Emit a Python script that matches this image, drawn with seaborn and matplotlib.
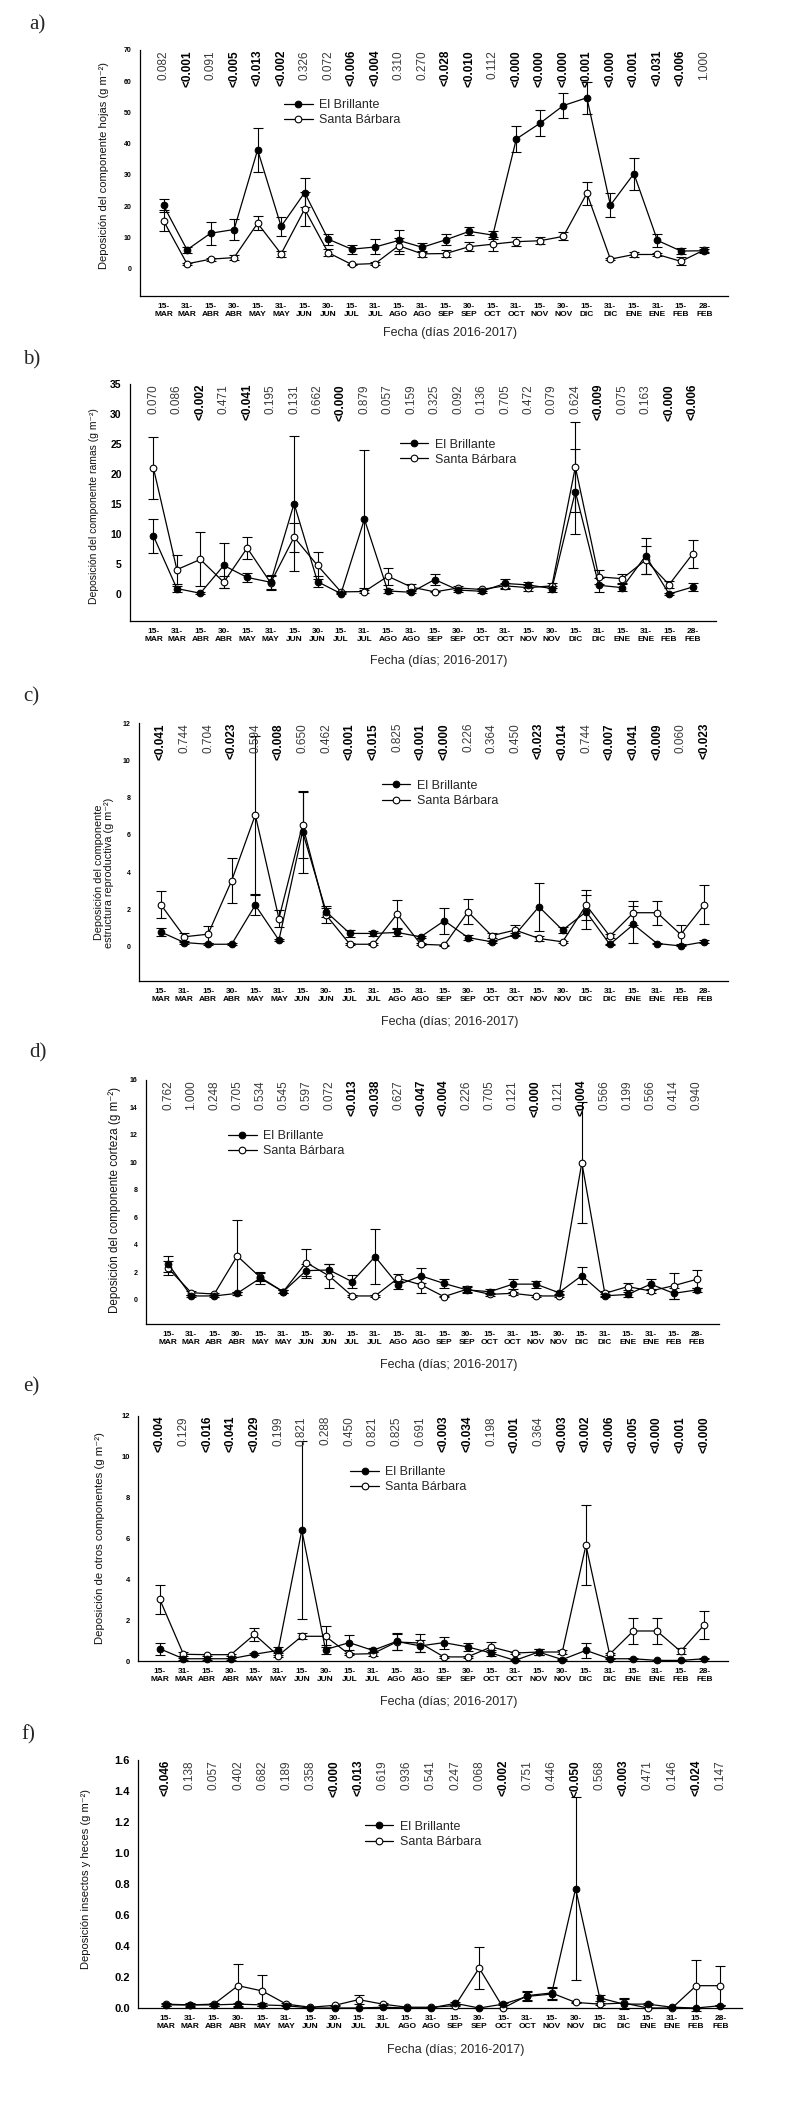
import pandas as pd
import matplotlib
matplotlib.use('Agg')
import matplotlib.pyplot as plt
import seaborn as sns

# Fechas de muestreo (eje x)
days = ['15-', '31-', '15-', '30-', '15-', '31-', '15-', '30-', '15-', '31-', '15-', '31-',
        '15-', '30-', '15-', '31-', '15-', '30-', '15-', '31-', '15-', '31-', '15-', '28-']
months = ['MAR', 'MAR', 'ABR', 'ABR', 'MAY', 'MAY', 'JUN', 'JUN', 'JUL', 'JUL', 'AGO', 'AGO',
          'SEP', 'SEP', 'OCT', 'OCT', 'NOV', 'NOV', 'DIC', 'DIC', 'ENE', 'ENE', 'FEB', 'FEB']

# a) hojas
a_eb = [20.2, 6.0, 11.3, 12.5, 38.0, 13.5, 24.3, 9.4, 6.2, 6.9, 9.0, 6.8, 9.2, 11.9, 10.7, 41.5,
        46.5, 52.2, 54.7, 20.3, 30.4, 9.0, 5.6, 5.7]
a_eb_err = [2.0, 1.0, 3.7, 3.5, 7.0, 3.0, 4.7, 1.8, 1.4, 2.4, 3.5, 1.5, 1.8, 1.3, 1.3, 4.1,
            4.2, 4.0, 5.1, 3.9, 5.1, 2.0, 1.0, 0.6]
a_sb = [15.3, 1.5, 3.0, 3.5, 14.5, 4.7, 19.0, 5.1, 1.3, 1.6, 7.3, 4.7, 4.8, 7.0, 7.8, 8.6,
        8.9, 10.3, 24.1, 3.0, 4.5, 4.5, 2.3, 6.0]
a_sb_err = [3.3, 0.3, 0.5, 0.8, 2.3, 1.0, 5.5, 1.2, 0.3, 0.4, 2.5, 1.0, 1.2, 1.5, 2.2, 1.5,
            1.2, 1.3, 3.7, 0.3, 0.7, 0.6, 1.3, 0.8]
a_p = ['0.082', '<0.001', '0.091', '<0.005', '<0.013', '<0.002', '0.326', '0.072', '<0.006',
       '<0.004', '0.310', '0.270', '<0.028', '<0.010', '0.112', '<0.000', '<0.000', '<0.000',
       '<0.001', '<0.000', '<0.001', '<0.031', '<0.006', '1.000']

# b) ramas
b_eb = [9.7, 0.95, 0.17, 4.8, 2.8, 2.0, 15.1, 2.1, 0.1, 12.5, 0.55, 0.33, 2.45, 0.7, 0.5, 1.8,
        1.55, 0.95, 17.1, 1.5, 1.1, 6.4, 0.05, 1.2]
b_eb_err = [2.8, 0.5, 0.2, 3.8, 0.7, 1.2, 11.3, 0.9, 0.1, 11.5, 0.3, 0.2, 0.9, 0.3, 0.3, 0.8,
            0.5, 0.5, 7.1, 1.2, 0.6, 3.0, 0.2, 0.6]
b_sb = [21.0, 4.1, 5.8, 2.0, 7.7, 1.9, 9.5, 4.8, 0.4, 0.45, 3.0, 1.2, 0.4, 1.05, 0.8, 1.4,
        1.1, 1.4, 21.2, 2.9, 2.6, 5.7, 1.6, 6.7]
b_sb_err = [5.2, 2.4, 4.5, 1.0, 1.9, 1.2, 2.4, 2.2, 0.1, 0.2, 1.4, 0.5, 0.1, 0.3, 0.3, 0.5,
            0.5, 0.4, 7.5, 1.2, 0.8, 2.3, 0.6, 2.4]
b_p = ['0.070', '0.086', '<0.002', '0.471', '<0.041', '0.195', '0.131', '0.662', '<0.000',
       '0.879', '0.057', '0.159', '0.325', '0.092', '0.136', '0.705', '0.472', '0.079',
       '0.624', '<0.009', '0.075', '0.163', '<0.000', '<0.006']

# c) estructura reproductiva
c_eb = [0.8, 0.23, 0.14, 0.14, 2.24, 0.36, 6.18, 1.88, 0.72, 0.72, 0.77, 0.54, 1.4, 0.5, 0.27,
        0.66, 2.15, 0.9, 1.88, 0.13, 1.2, 0.18, 0.05, 0.27]
c_eb_err = [0.2, 0.05, 0.05, 0.05, 0.55, 0.05, 2.2, 0.3, 0.2, 0.15, 0.2, 0.05, 0.7, 0.15, 0.05,
            0.1, 1.3, 0.15, 0.9, 0.05, 1.0, 0.05, 0.03, 0.08]
c_sb = [2.27, 0.54, 0.68, 3.55, 7.07, 1.52, 6.54, 1.7, 0.14, 0.14, 1.76, 0.14, 0.09, 1.88, 0.6,
        0.9, 0.45, 0.27, 2.24, 0.57, 1.83, 1.83, 0.66, 2.27]
c_sb_err = [0.72, 0.2, 0.45, 1.2, 4.25, 0.45, 1.75, 0.4, 0.05, 0.05, 0.77, 0.05, 0.03, 0.66,
            0.15, 0.25, 0.15, 0.05, 0.8, 0.1, 0.65, 0.65, 0.5, 1.05]
c_p = ['<0.041', '0.744', '0.704', '<0.023', '0.594', '<0.008', '0.650', '0.462', '<0.001',
       '<0.015', '0.825', '<0.001', '<0.000', '0.226', '0.364', '0.450', '<0.023', '<0.014',
       '0.744', '<0.007', '<0.041', '<0.009', '0.060', '<0.023']

# d) corteza
d_eb = [2.6, 0.29, 0.29, 0.48, 1.58, 0.6, 2.13, 2.18, 1.33, 3.15, 1.1, 1.75, 1.2, 0.73, 0.6,
        1.15, 1.15, 0.53, 1.77, 0.3, 0.4, 1.15, 0.48, 0.73]
d_eb_err = [0.6, 0.1, 0.1, 0.1, 0.45, 0.1, 0.5, 0.45, 0.45, 2.0, 0.3, 0.55, 0.35, 0.2, 0.2,
            0.35, 0.25, 0.1, 0.6, 0.1, 0.15, 0.4, 0.4, 0.15]
d_sb = [2.3, 0.53, 0.43, 3.2, 1.65, 0.6, 2.72, 1.75, 0.29, 0.29, 1.58, 1.1, 0.24, 0.78, 0.41,
        0.48, 0.29, 0.29, 9.99, 0.48, 0.97, 0.65, 1.04, 1.5]
d_sb_err = [0.5, 0.15, 0.1, 2.65, 0.3, 0.1, 1.0, 0.9, 0.05, 0.05, 0.3, 0.6, 0.05, 0.2, 0.1,
            0.1, 0.05, 0.05, 4.4, 0.2, 0.25, 0.15, 0.95, 0.65]
d_p = ['0.762', '1.000', '0.248', '0.705', '0.534', '0.545', '0.597', '0.072', '<0.013',
       '<0.038', '0.627', '<0.047', '<0.004', '0.226', '0.705', '0.121', '<0.000', '0.121',
       '<0.004', '0.566', '0.199', '0.566', '0.414', '0.940']

# e) otros componentes
e_eb = [0.6, 0.11, 0.11, 0.11, 0.33, 0.52, 6.41, 0.56, 0.9, 0.52, 0.96, 0.74, 0.9, 0.69, 0.39,
        0.03, 0.44, 0.07, 0.52, 0.11, 0.11, 0.03, 0.03, 0.11]
e_eb_err = [0.3, 0.05, 0.05, 0.05, 0.05, 0.15, 4.35, 0.2, 0.35, 0.1, 0.4, 0.3, 0.3, 0.2, 0.15,
            0.02, 0.15, 0.03, 0.35, 0.03, 0.03, 0.02, 0.02, 0.03]
e_sb = [3.02, 0.33, 0.31, 0.31, 1.3, 0.26, 1.21, 1.21, 0.33, 0.36, 0.93, 0.88, 0.2, 0.2, 0.69,
        0.39, 0.44, 0.44, 5.67, 0.33, 1.47, 1.47, 0.47, 1.78]
e_sb_err = [0.7, 0.1, 0.05, 0.05, 0.3, 0.05, 0.15, 0.5, 0.05, 0.1, 0.4, 0.45, 0.05, 0.05, 0.25,
            0.05, 0.15, 0.1, 1.95, 0.05, 0.62, 0.62, 0.15, 0.68]
e_p = ['<0.004', '0.129', '<0.016', '<0.041', '<0.029', '0.199', '0.821', '0.288', '0.450',
       '0.821', '0.825', '0.691', '<0.003', '<0.034', '0.198', '<0.001', '0.364', '<0.003',
       '<0.002', '<0.006', '<0.005', '<0.000', '<0.001', '<0.000']

# f) insectos y heces
f_eb = [0.02, 0.02, 0.02, 0.025, 0.02, 0.015, 0.0, 0.0, 0.0, 0.005, 0.0, 0.0, 0.03, 0.0, 0.025,
        0.075, 0.09, 0.77, 0.065, 0.025, 0.025, 0.005, 0.0, 0.015]
f_eb_err = [0.005, 0.005, 0.005, 0.01, 0.01, 0.005, 0.0, 0.0, 0.0, 0.0, 0.0, 0.0, 0.01, 0.0,
            0.005, 0.03, 0.04, 0.59, 0.02, 0.03, 0.005, 0.0, 0.0, 0.005]
f_sb = [0.025, 0.02, 0.025, 0.144, 0.11, 0.025, 0.005, 0.017, 0.054, 0.025, 0.005, 0.005,
        0.015, 0.258, 0.0, 0.08, 0.097, 0.036, 0.025, 0.032, 0.0, 0.0, 0.144, 0.144]
f_sb_err = [0.01, 0.015, 0.01, 0.14, 0.1, 0.005, 0.0, 0.005, 0.03, 0.005, 0.0, 0.0, 0.005,
            0.133, 0.0, 0.03, 0.04, 0.005, 0.005, 0.03, 0.0, 0.0, 0.165, 0.125]
f_p = ['<0.046', '0.138', '0.057', '0.402', '0.682', '0.189', '0.358', '<0.000', '<0.013',
       '0.619', '0.936', '0.541', '0.247', '0.068', '<0.002', '0.751', '0.446', '<0.050',
       '0.568', '<0.003', '0.471', '0.146', '<0.024', '0.147']

NARROW = ['Liberation Sans Narrow', 'Liberation Sans', 'DejaVu Sans']
SERIF = ['Liberation Serif', 'DejaVu Serif']
W, H = 807, 2112

# layout per panel (pixel boxes)
panels = [
    dict(tag='a)', tag_xy=(29, 25), box=(140, 50, 728, 296), data=(a_eb, a_eb_err, a_sb, a_sb_err, a_p),
         xlim=(-1, 24), ylim=(-8.8, 70), yticks=list(range(0, 71, 10)), yfmt='{:.0f}', ytick_size=5,
         ylabel='Deposición del componente hojas (g m⁻²)', ylab_xy=(-0.061, 0.53), ylab_size=8,
         leg_xy=(0.245, 0.80), xlabel='Fecha (días 2016-2017)', xlab_y=333),
    dict(tag='b)', tag_xy=(23, 360), box=(130, 384, 716, 621), data=(b_eb, b_eb_err, b_sb, b_sb_err, b_p),
         xlim=(-1, 24), ylim=(-4.45, 35), yticks=list(range(0, 36, 5)), yfmt='{:.0f}', ytick_size=7.5,
         ylabel='Deposición del componente ramas (g m⁻²)', ylab_xy=(-0.061, 0.485), ylab_size=7.5,
         leg_xy=(0.46, 0.77), xlabel='Fecha (días; 2016-2017)', xlab_y=661),
    dict(tag='c)', tag_xy=(23, 697), box=(139, 723, 728, 981), data=(c_eb, c_eb_err, c_sb, c_sb_err, c_p),
         xlim=(-0.92, 24), ylim=(-1.83, 12), yticks=list(range(0, 13, 2)), yfmt='{:.0f}', ytick_size=5,
         ylabel='Deposición del componente\nestructura reproductiva (g m⁻²)', ylab_xy=(-0.06, 0.42),
         ylab_size=7.8, leg_xy=(0.412, 0.78), xlabel='Fecha (días; 2016-2017)', xlab_y=1022),
    dict(tag='d)', tag_xy=(29, 1053), box=(146, 1080, 719, 1324), data=(d_eb, d_eb_err, d_sb, d_sb_err, d_p),
         xlim=(-0.97, 23.97), ylim=(-1.75, 16), yticks=list(range(0, 17, 2)), yfmt='{:.0f}', ytick_size=5,
         ylabel='Deposición del componente corteza (g m⁻²)', ylab_xy=(-0.054, 0.51), ylab_size=8.4,
         leg_xy=(0.143, 0.795), xlabel='Fecha (días; 2016-2017)', xlab_y=1365),
    dict(tag='e)', tag_xy=(23, 1387), box=(138, 1416, 728, 1661), data=(e_eb, e_eb_err, e_sb, e_sb_err, e_p),
         xlim=(-0.92, 24), ylim=(0, 12), yticks=list(range(0, 13, 2)), yfmt='{:.0f}', ytick_size=5.5,
         ylabel='Deposición de otros componentes (g m⁻²)', ylab_xy=(-0.064, 0.5), ylab_size=8.2,
         leg_xy=(0.36, 0.795), xlabel='Fecha (días; 2016-2017)', xlab_y=1702),
    dict(tag='f)', tag_xy=(21, 1735), box=(138, 1760, 742, 2008), data=(f_eb, f_eb_err, f_sb, f_sb_err, f_p),
         xlim=(-1.15, 23.9), ylim=(0, 1.6), yticks=[0.0, 0.2, 0.4, 0.6, 0.8, 1.0, 1.2, 1.4, 1.6],
         yfmt='{:.1f}', ytick_size=8, ylabel='Deposición insectos y heces (g m⁻²)', ylab_xy=(-0.086, 0.52),
         ylab_size=8, leg_xy=(0.375, 0.755), xlabel='Fecha (días; 2016-2017)', xlab_y=2050),
]


def draw_panel(fig, cfg):
    l, t, r, b = cfg['box']
    ax = fig.add_axes([l / W, 1 - b / H, (r - l) / W, (b - t) / H])
    eb, eb_err, sb, sb_err, pvals = cfg['data']
    pos = list(range(len(days)))
    df = pd.DataFrame({'pos': pos, 'eb': eb, 'eb_err': eb_err, 'sb': sb, 'sb_err': sb_err})

    # error bars first, then lines + markers on top
    for col in ['eb', 'sb']:
        ax.errorbar(df['pos'], df[col], yerr=df[col + '_err'], fmt='none', ecolor='black',
                    elinewidth=0.8, capsize=3.4, capthick=0.8, zorder=2, clip_on=False)
    sns.lineplot(data=df, x='pos', y='eb', ax=ax, color='black', linewidth=0.9, marker='o',
                 markersize=4.8, markerfacecolor='black', markeredgecolor='black',
                 label='El Brillante', zorder=4, clip_on=False)
    sns.lineplot(data=df, x='pos', y='sb', ax=ax, color='black', linewidth=0.9, marker='o',
                 markersize=4.8, markerfacecolor='white', markeredgecolor='black',
                 markeredgewidth=0.8, label='Santa Bárbara', zorder=3, clip_on=False)

    ax.set_xlim(*cfg['xlim'])
    ax.set_ylim(*cfg['ylim'])
    sns.despine(ax=ax)
    for s in ['left', 'bottom']:
        ax.spines[s].set_linewidth(0.9)
        ax.spines[s].set_color('black')

    ax.set_yticks(cfg['yticks'])
    ax.set_yticklabels([cfg['yfmt'].format(v) for v in cfg['yticks']],
                       fontsize=cfg['ytick_size'], fontweight='bold', family=NARROW)
    ax.set_xticks(pos)
    ax.set_xticklabels([f'{d}\n{m}' for d, m in zip(days, months)], fontsize=6,
                       fontweight='bold', family=NARROW, linespacing=1.25)
    ax.tick_params(axis='y', length=3, width=0.8, pad=3, colors='black')
    ax.tick_params(axis='x', length=2, width=0.6, pad=3, colors='black')

    ax.set_xlabel('')
    ax.set_ylabel(cfg['ylabel'], fontsize=cfg['ylab_size'], family=NARROW, linespacing=1.0,
                  color='#111111')
    ax.yaxis.set_label_coords(*cfg['ylab_xy'])
    ax.yaxis.label.set_va('center')

    # p-values along the top of each date
    for i, p in enumerate(pvals):
        strong = p.startswith('<')
        ax.text(i, cfg['ylim'][1], p, rotation=90, ha='center', va='top', fontsize=8.5,
                fontweight='bold' if strong else 'normal',
                color='black' if strong else '#3a3a3a', family=['Liberation Sans', 'DejaVu Sans'])

    ax.legend(loc='upper left', bbox_to_anchor=cfg['leg_xy'], frameon=False,
              prop={'family': NARROW, 'size': 9}, handlelength=2.3, handletextpad=0.5,
              labelspacing=0.25, borderpad=0, borderaxespad=0)

    cx = (l + r) / 2 / W + 0.02
    fig.text(cx, 1 - cfg['xlab_y'] / H, cfg['xlabel'], ha='center', va='center',
             fontsize=9, family=NARROW)
    fig.text(cfg['tag_xy'][0] / W, 1 - cfg['tag_xy'][1] / H, cfg['tag'], ha='left',
             va='center', fontsize=15, family=SERIF)
    return ax


sns.set_style('white')
plt.rcParams['font.family'] = ['Liberation Sans', 'DejaVu Sans']

fig = plt.figure(figsize=(W / 100, H / 100), dpi=100)
for cfg in panels:
    draw_panel(fig, cfg)

fig.savefig('out.png', dpi=100, facecolor='white')
